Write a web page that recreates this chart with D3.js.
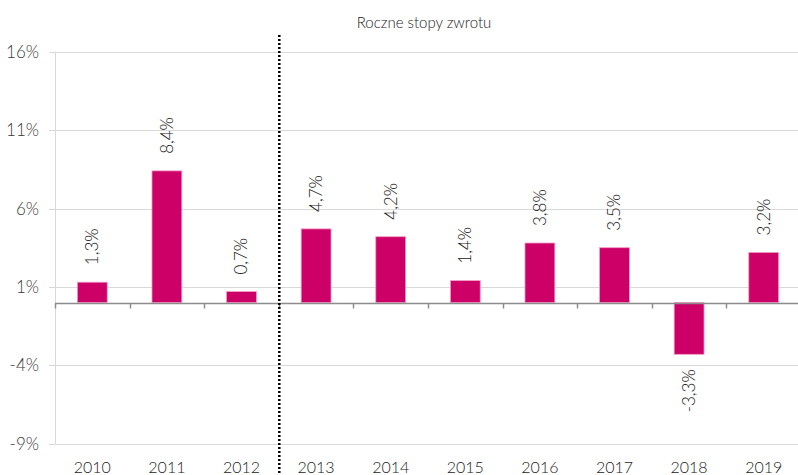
<!DOCTYPE html>
<html lang="pl">
<head>
    <meta charset="UTF-8">
    <title>Roczne stopy zwrotu</title>
    <script src="https://d3js.org/d3.v7.min.js"></script>
    <style>
        body { margin: 0; background: #fff; }
        svg { display: block; font-family: Lato, "Open Sans", sans-serif; font-weight: 300; }
        .grid line { stroke: #d9d9d9; stroke-width: 1; }
        .ylab { fill: #3a3a3a; font-size: 17px; }
        .xlab { fill: #1a1a1a; font-size: 16px; }
        .vlab { fill: #1a1a1a; font-size: 17px; }
    </style>
</head>
<body>
    <svg id="chart"></svg>
    <script>
        const years = ['2010', '2011', '2012', '2013', '2014', '2015', '2016', '2017', '2018', '2019'];
        const returns = [1.3, 8.4, 0.7, 4.7, 4.2, 1.4, 3.8, 3.5, -3.3, 3.2];
        const yTicks = [16, 11, 6, 1, -4, -9];
        const title = 'Roczne stopy zwrotu';

        const width = 798;
        const height = 475;

        const svg = d3.select('#chart')
            .attr('width', width)
            .attr('height', height);

        const x = d3.scaleBand()
            .domain(years)
            .range([55, 801])
            .padding(0);

        const y = d3.scaleLinear()
            .domain([-9, 16])
            .range([443.7, 51.7]);

        const fmt = v => String(v.toFixed(1)).replace('.', ',') + '%';

        // gridlines
        svg.append('g')
            .attr('class', 'grid')
            .selectAll('line')
            .data(yTicks)
            .enter().append('line')
            .attr('x1', 49)
            .attr('x2', width)
            .attr('y1', d => Math.round(y(d)) + 0.5)
            .attr('y2', d => Math.round(y(d)) + 0.5);

        // y axis line
        svg.append('line')
            .attr('x1', 55.5).attr('x2', 55.5)
            .attr('y1', y(16)).attr('y2', y(-9))
            .attr('stroke', '#d9d9d9');

        // y labels
        svg.append('g')
            .selectAll('text')
            .data(yTicks)
            .enter().append('text')
            .attr('class', 'ylab')
            .attr('x', 39)
            .attr('y', d => y(d))
            .attr('dy', '0.36em')
            .attr('text-anchor', 'end')
            .text(d => d + '%');

        // bars
        const bw = x.bandwidth() * 0.4;
        svg.append('g')
            .selectAll('rect')
            .data(returns)
            .enter().append('rect')
            .attr('x', (d, i) => x(years[i]) + (x.bandwidth() - bw) / 2)
            .attr('y', d => y(Math.max(0, d)))
            .attr('width', bw)
            .attr('height', d => Math.abs(y(d) - y(0)))
            .attr('fill', '#cc0066')
            .attr('stroke', '#f29cc6')
            .attr('stroke-width', 0.8);

        // x axis line + ticks
        const y0 = Math.round(y(0)) + 0.5;
        svg.append('line')
            .attr('x1', 55).attr('x2', width)
            .attr('y1', y0).attr('y2', y0)
            .attr('stroke', '#8c8c8c')
            .attr('stroke-width', 1.5);

        svg.append('g')
            .selectAll('line')
            .data(years)
            .enter().append('line')
            .attr('x1', d => Math.round(x(d)) + 0.5)
            .attr('x2', d => Math.round(x(d)) + 0.5)
            .attr('y1', y0)
            .attr('y2', y0 + 5)
            .attr('stroke', '#8c8c8c')
            .attr('stroke-width', 1.5);

        // x labels
        svg.append('g')
            .selectAll('text')
            .data(years)
            .enter().append('text')
            .attr('class', 'xlab')
            .attr('x', d => x(d) + x.bandwidth() / 2)
            .attr('y', 473)
            .attr('text-anchor', 'middle')
            .text(d => d);

        // value labels (rotated)
        svg.append('g')
            .selectAll('text')
            .data(returns)
            .enter().append('text')
            .attr('class', 'vlab')
            .attr('transform', (d, i) => {
                const cx = x(years[i]) + x.bandwidth() / 2;
                const ty = d >= 0 ? y(d) - 17 : y(d) + 15;
                return `translate(${cx},${ty}) rotate(-90)`;
            })
            .attr('dy', '0.35em')
            .attr('text-anchor', d => d >= 0 ? 'start' : 'end')
            .text(d => fmt(d));

        // dotted separator between 2012 and 2013
        const sepX = x('2013') + 0.5;
        svg.append('line')
            .attr('x1', sepX).attr('x2', sepX)
            .attr('y1', 35).attr('y2', height)
            .attr('stroke', '#000')
            .attr('stroke-width', 2.5)
            .attr('stroke-dasharray', '2,2');

        // title
        svg.append('text')
            .attr('x', 424)
            .attr('y', 28)
            .attr('text-anchor', 'middle')
            .attr('fill', '#1a1a1a')
            .attr('font-size', '15px')
            .text(title);
    </script>
</body>
</html>
